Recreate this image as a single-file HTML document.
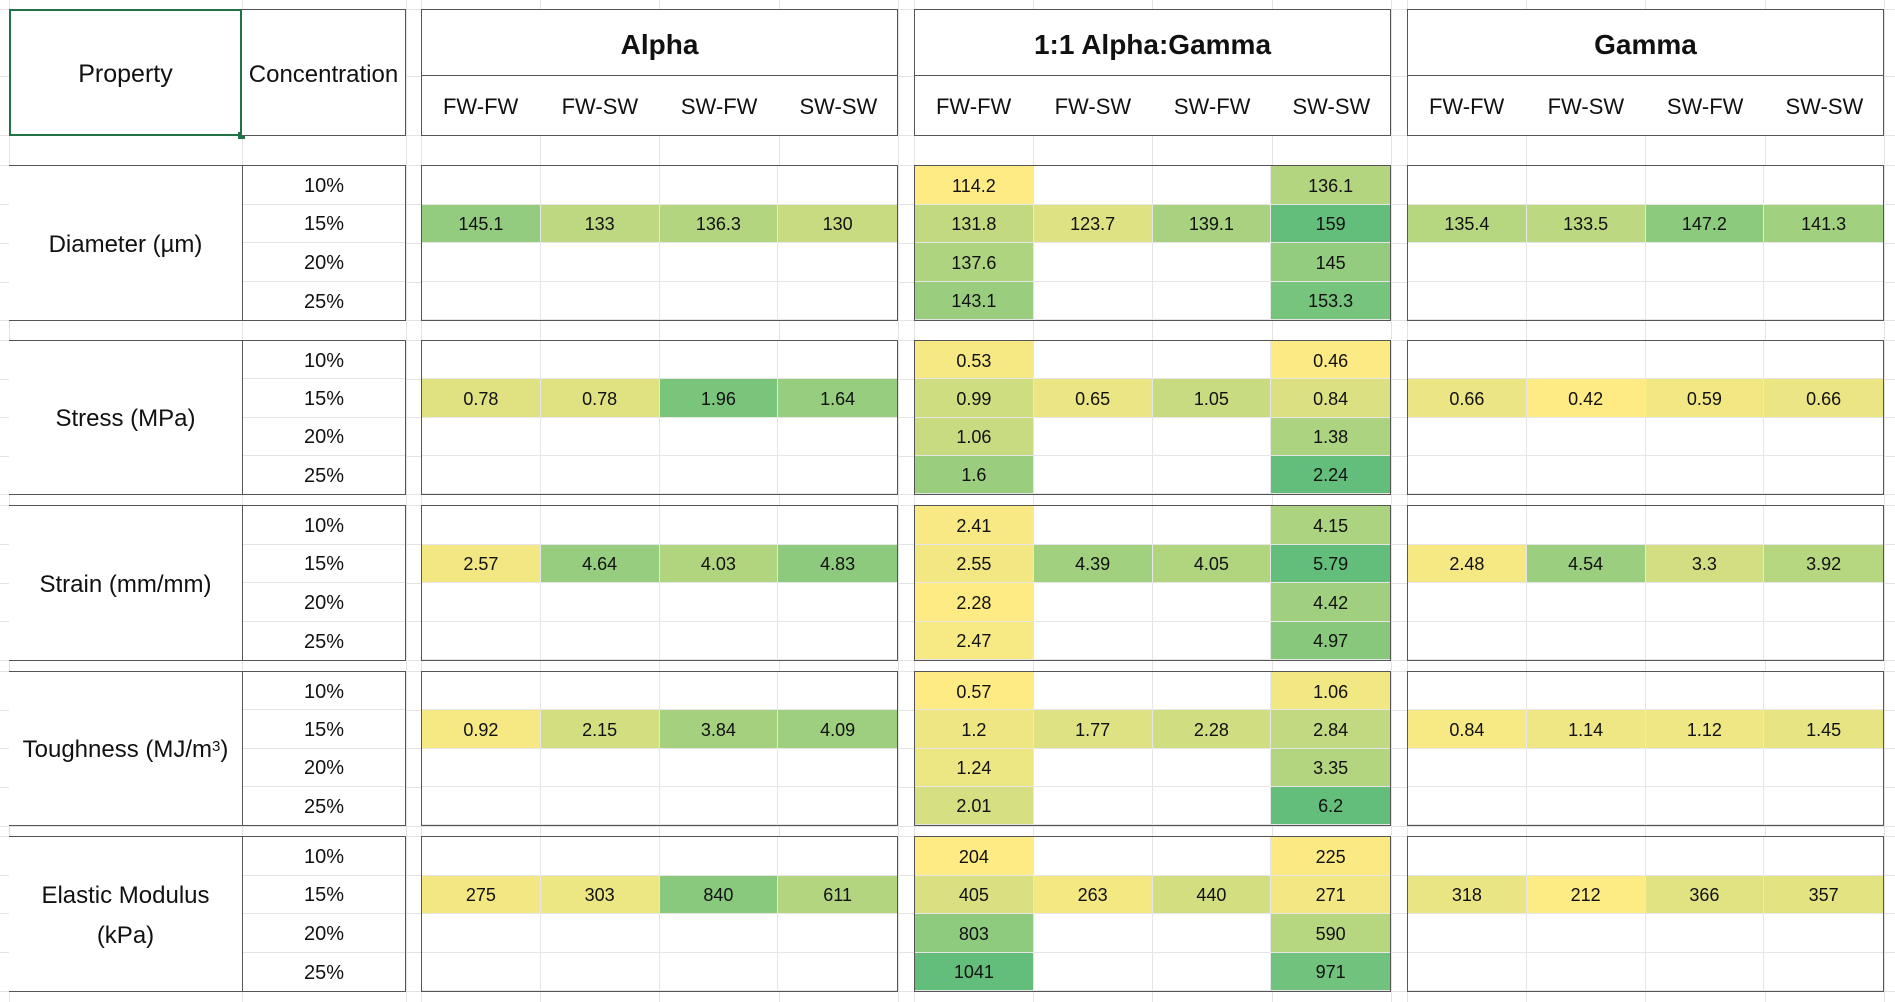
<!DOCTYPE html>
<html><head><meta charset="utf-8"><style>
body{margin:0;width:1895px;height:1002px;background:#fff;position:relative;overflow:hidden;font-family:"Liberation Sans Narrow","Liberation Sans",sans-serif;color:#111}
.a{position:absolute;box-sizing:border-box}
.gh{position:absolute;left:0;width:1895px;height:1px;background:#e3e3e3}
.gv{position:absolute;top:0;height:1002px;width:1px;background:#e3e3e3}
.blk{position:absolute;box-sizing:border-box;border:1.5px solid #555;display:grid;grid-template-columns:repeat(4,1fr);grid-template-rows:repeat(4,1fr)}
.blk div{display:flex;align-items:center;justify-content:center;font-size:18px;padding-top:3px;box-sizing:border-box;border-right:1px solid #e6e6e6;border-bottom:1px solid #e6e6e6}
.blk div:nth-child(4n){border-right:none}
.hd{display:flex;align-items:center;justify-content:center}
.hdb{position:absolute;box-sizing:border-box;border:1.5px solid #555}
.conc{position:absolute;left:242px;width:164px;box-sizing:border-box;border:1.5px solid #555;display:grid;grid-template-rows:repeat(4,1fr)}
.conc div{display:flex;align-items:center;justify-content:center;font-size:20px;padding-top:3px;box-sizing:border-box;border-bottom:1px solid #e3e3e3}
.prop{position:absolute;left:9px;width:233px;box-sizing:border-box;border-top:1.5px solid #555;border-bottom:1.5px solid #555;display:flex;align-items:center;justify-content:center;text-align:center;font-size:24px;line-height:40px;padding-top:3px}
sup{font-size:15px;position:relative;top:-4px;vertical-align:top;line-height:1}
</style></head><body>
<div class="gh" style="top:9px"></div><div class="gh" style="top:76px"></div><div class="gh" style="top:135px"></div><div class="gh" style="top:165px"></div>
<div class="gh" style="top:204px"></div><div class="gh" style="top:243px"></div><div class="gh" style="top:282px"></div><div class="gh" style="top:320px"></div>
<div class="gh" style="top:340px"></div><div class="gh" style="top:379px"></div><div class="gh" style="top:417px"></div><div class="gh" style="top:456px"></div><div class="gh" style="top:494px"></div>
<div class="gh" style="top:505px"></div><div class="gh" style="top:544px"></div><div class="gh" style="top:583px"></div><div class="gh" style="top:621px"></div><div class="gh" style="top:660px"></div>
<div class="gh" style="top:671px"></div><div class="gh" style="top:710px"></div><div class="gh" style="top:748px"></div><div class="gh" style="top:787px"></div><div class="gh" style="top:826px"></div>
<div class="gh" style="top:836px"></div><div class="gh" style="top:875px"></div><div class="gh" style="top:913px"></div><div class="gh" style="top:952px"></div><div class="gh" style="top:991px"></div>
<div class="gv" style="left:9px"></div><div class="gv" style="left:242px"></div><div class="gv" style="left:406px"></div><div class="gv" style="left:421px"></div>
<div class="gv" style="left:540px"></div><div class="gv" style="left:659px"></div><div class="gv" style="left:779px"></div><div class="gv" style="left:898px"></div>
<div class="gv" style="left:914px"></div><div class="gv" style="left:1033px"></div><div class="gv" style="left:1152px"></div><div class="gv" style="left:1272px"></div><div class="gv" style="left:1391px"></div>
<div class="gv" style="left:1407px"></div><div class="gv" style="left:1526px"></div><div class="gv" style="left:1645px"></div><div class="gv" style="left:1765px"></div><div class="gv" style="left:1884px"></div>

<div class="a hd" style="left:9px;top:9px;width:233px;height:127px;border:2px solid #217346;background:#fff;font-size:25px;padding-top:4px">Property</div>
<div class="a" style="left:238px;top:132px;width:7px;height:7px;background:#217346"></div>
<div class="a hd" style="left:242px;top:9px;width:164px;height:127px;border:1.5px solid #555;border-left:none;background:#fff;font-size:24px;padding-top:4px">Concentration</div>

<div class="hdb" style="left:421px;top:9px;width:477px;height:127px;background:#fff"></div>
<div class="hdb" style="left:914px;top:9px;width:477px;height:127px;background:#fff"></div>
<div class="hdb" style="left:1407px;top:9px;width:477px;height:127px;background:#fff"></div>
<div class="a hd" style="left:421px;top:9px;width:477px;height:67px;border-bottom:1.5px solid #555;font-size:28px;font-weight:bold;padding-top:6px">Alpha</div>
<div class="a hd" style="left:914px;top:9px;width:477px;height:67px;border-bottom:1.5px solid #555;font-size:28px;font-weight:bold;padding-top:6px">1:1 Alpha:Gamma</div>
<div class="a hd" style="left:1407px;top:9px;width:477px;height:67px;border-bottom:1.5px solid #555;font-size:28px;font-weight:bold;padding-top:6px">Gamma</div>

<div class="a" style="left:421px;top:77px;width:477px;height:59px;display:grid;grid-template-columns:repeat(4,1fr);font-size:22px"><div class="hd">FW-FW</div><div class="hd">FW-SW</div><div class="hd">SW-FW</div><div class="hd">SW-SW</div></div>
<div class="a" style="left:914px;top:77px;width:477px;height:59px;display:grid;grid-template-columns:repeat(4,1fr);font-size:22px"><div class="hd">FW-FW</div><div class="hd">FW-SW</div><div class="hd">SW-FW</div><div class="hd">SW-SW</div></div>
<div class="a" style="left:1407px;top:77px;width:477px;height:59px;display:grid;grid-template-columns:repeat(4,1fr);font-size:22px"><div class="hd">FW-FW</div><div class="hd">FW-SW</div><div class="hd">SW-FW</div><div class="hd">SW-SW</div></div>

<div class="prop" style="top:165px;height:156px;background:#fff">Diameter (µm)</div>
<div class="conc" style="top:165px;height:156px;background:#fff"><div>10%</div><div>15%</div><div>20%</div><div style="border:none">25%</div></div>
<div class="blk" style="left:421px;top:165px;width:477px;height:156px;background:#fff">
<div></div><div></div><div></div><div></div>
<div style="background:rgb(147,204,126)">145.1</div><div style="background:rgb(189,216,128)">133</div><div style="background:rgb(179,213,128)">136.3</div><div style="background:rgb(200,219,129)">130</div>
<div></div><div></div><div></div><div></div><div></div><div></div><div></div><div></div></div>
<div class="blk" style="left:914px;top:165px;width:477px;height:156px;background:#fff">
<div style="background:rgb(255,235,132)">114.2</div><div></div><div></div><div style="background:rgb(179,213,128)">136.1</div>
<div style="background:rgb(194,217,128)">131.8</div><div style="background:rgb(222,226,130)">123.7</div><div style="background:rgb(168,210,127)">139.1</div><div style="background:rgb(99,190,123)">159</div>
<div style="background:rgb(174,212,127)">137.6</div><div></div><div></div><div style="background:rgb(147,204,126)">145</div>
<div style="background:rgb(154,206,126)">143.1</div><div></div><div></div><div style="background:rgb(119,196,124)">153.3</div></div>
<div class="blk" style="left:1407px;top:165px;width:477px;height:156px;background:#fff">
<div></div><div></div><div></div><div></div>
<div style="background:rgb(182,214,128)">135.4</div><div style="background:rgb(188,216,128)">133.5</div><div style="background:rgb(140,202,125)">147.2</div><div style="background:rgb(161,208,127)">141.3</div>
<div></div><div></div><div></div><div></div><div></div><div></div><div></div><div></div></div>

<div class="prop" style="top:340px;height:155px;background:#fff">Stress (MPa)</div>
<div class="conc" style="top:340px;height:155px;background:#fff"><div>10%</div><div>15%</div><div>20%</div><div style="border:none">25%</div></div>
<div class="blk" style="left:421px;top:340px;width:477px;height:155px;background:#fff">
<div></div><div></div><div></div><div></div>
<div style="background:rgb(224,226,130)">0.78</div><div style="background:rgb(224,226,130)">0.78</div><div style="background:rgb(122,197,124)">1.96</div><div style="background:rgb(150,205,126)">1.64</div>
<div></div><div></div><div></div><div></div><div></div><div></div><div></div><div></div></div>
<div class="blk" style="left:914px;top:340px;width:477px;height:155px;background:#fff">
<div style="background:rgb(246,232,131)">0.53</div><div></div><div></div><div style="background:rgb(252,234,132)">0.46</div>
<div style="background:rgb(207,221,129)">0.99</div><div style="background:rgb(235,229,131)">0.65</div><div style="background:rgb(200,219,129)">1.05</div><div style="background:rgb(219,225,130)">0.84</div>
<div style="background:rgb(200,219,129)">1.06</div><div></div><div></div><div style="background:rgb(172,211,127)">1.38</div>
<div style="background:rgb(154,206,126)">1.6</div><div></div><div></div><div style="background:rgb(99,190,123)">2.24</div></div>
<div class="blk" style="left:1407px;top:340px;width:477px;height:155px;background:#fff">
<div></div><div></div><div></div><div></div>
<div style="background:rgb(235,229,131)">0.66</div><div style="background:rgb(255,235,132)">0.42</div><div style="background:rgb(241,231,131)">0.59</div><div style="background:rgb(235,229,131)">0.66</div>
<div></div><div></div><div></div><div></div><div></div><div></div><div></div><div></div></div>

<div class="prop" style="top:505px;height:156px;background:#fff">Strain (mm/mm)</div>
<div class="conc" style="top:505px;height:156px;background:#fff"><div>10%</div><div>15%</div><div>20%</div><div style="border:none">25%</div></div>
<div class="blk" style="left:421px;top:505px;width:477px;height:156px;background:#fff">
<div></div><div></div><div></div><div></div>
<div style="background:rgb(242,231,131)">2.57</div><div style="background:rgb(150,205,126)">4.64</div><div style="background:rgb(177,212,127)">4.03</div><div style="background:rgb(141,202,125)">4.83</div>
<div></div><div></div><div></div><div></div><div></div><div></div><div></div><div></div></div>
<div class="blk" style="left:914px;top:505px;width:477px;height:156px;background:#fff">
<div style="background:rgb(249,233,132)">2.41</div><div></div><div></div><div style="background:rgb(172,211,127)">4.15</div>
<div style="background:rgb(242,231,131)">2.55</div><div style="background:rgb(161,208,127)">4.39</div><div style="background:rgb(177,212,127)">4.05</div><div style="background:rgb(99,190,123)">5.79</div>
<div style="background:rgb(255,235,132)">2.28</div><div></div><div></div><div style="background:rgb(160,208,127)">4.42</div>
<div style="background:rgb(247,233,132)">2.47</div><div></div><div></div><div style="background:rgb(135,200,125)">4.97</div></div>
<div class="blk" style="left:1407px;top:505px;width:477px;height:156px;background:#fff">
<div></div><div></div><div></div><div></div>
<div style="background:rgb(246,232,131)">2.48</div><div style="background:rgb(155,206,126)">4.54</div><div style="background:rgb(210,222,129)">3.3</div><div style="background:rgb(182,214,128)">3.92</div>
<div></div><div></div><div></div><div></div><div></div><div></div><div></div><div></div></div>

<div class="prop" style="top:671px;height:155px;background:#fff">Toughness (MJ/m<sup>3</sup>)</div>
<div class="conc" style="top:671px;height:155px;background:#fff"><div>10%</div><div>15%</div><div>20%</div><div style="border:none">25%</div></div>
<div class="blk" style="left:421px;top:671px;width:477px;height:155px;background:#fff">
<div></div><div></div><div></div><div></div>
<div style="background:rgb(246,232,131)">0.92</div><div style="background:rgb(211,222,129)">2.15</div><div style="background:rgb(165,209,127)">3.84</div><div style="background:rgb(157,207,126)">4.09</div>
<div></div><div></div><div></div><div></div><div></div><div></div><div></div><div></div></div>
<div class="blk" style="left:914px;top:671px;width:477px;height:155px;background:#fff">
<div style="background:rgb(255,235,132)">0.57</div><div></div><div></div><div style="background:rgb(241,231,131)">1.06</div>
<div style="background:rgb(238,230,131)">1.2</div><div style="background:rgb(222,226,130)">1.77</div><div style="background:rgb(208,221,129)">2.28</div><div style="background:rgb(193,217,128)">2.84</div>
<div style="background:rgb(236,230,131)">1.24</div><div></div><div></div><div style="background:rgb(179,213,128)">3.35</div>
<div style="background:rgb(214,223,130)">2.01</div><div></div><div></div><div style="background:rgb(99,190,123)">6.2</div></div>
<div class="blk" style="left:1407px;top:671px;width:477px;height:155px;background:#fff">
<div></div><div></div><div></div><div></div>
<div style="background:rgb(247,233,132)">0.84</div><div style="background:rgb(239,231,131)">1.14</div><div style="background:rgb(239,231,131)">1.12</div><div style="background:rgb(230,228,131)">1.45</div>
<div></div><div></div><div></div><div></div><div></div><div></div><div></div><div></div></div>

<div class="prop" style="top:836px;height:156px;background:#fff">Elastic Modulus<br>(kPa)</div>
<div class="conc" style="top:836px;height:156px;background:#fff"><div>10%</div><div>15%</div><div>20%</div><div style="border:none">25%</div></div>
<div class="blk" style="left:421px;top:836px;width:477px;height:156px;background:#fff">
<div></div><div></div><div></div><div></div>
<div style="background:rgb(242,231,131)">275</div><div style="background:rgb(236,230,131)">303</div><div style="background:rgb(136,201,125)">840</div><div style="background:rgb(179,213,128)">611</div>
<div></div><div></div><div></div><div></div><div></div><div></div><div></div><div></div></div>
<div class="blk" style="left:914px;top:836px;width:477px;height:156px;background:#fff">
<div style="background:rgb(255,235,132)">204</div><div></div><div></div><div style="background:rgb(251,234,132)">225</div>
<div style="background:rgb(218,224,130)">405</div><div style="background:rgb(244,232,131)">263</div><div style="background:rgb(211,222,129)">440</div><div style="background:rgb(242,231,131)">271</div>
<div style="background:rgb(143,203,126)">803</div><div></div><div></div><div style="background:rgb(183,214,128)">590</div>
<div style="background:rgb(99,190,123)">1041</div><div></div><div></div><div style="background:rgb(112,194,124)">971</div></div>
<div class="blk" style="left:1407px;top:836px;width:477px;height:156px;background:#fff">
<div></div><div></div><div></div><div></div>
<div style="background:rgb(233,229,131)">318</div><div style="background:rgb(253,235,132)">212</div><div style="background:rgb(225,226,130)">366</div><div style="background:rgb(227,227,130)">357</div>
<div></div><div></div><div></div><div></div><div></div><div></div><div></div><div></div></div>
</body></html>
